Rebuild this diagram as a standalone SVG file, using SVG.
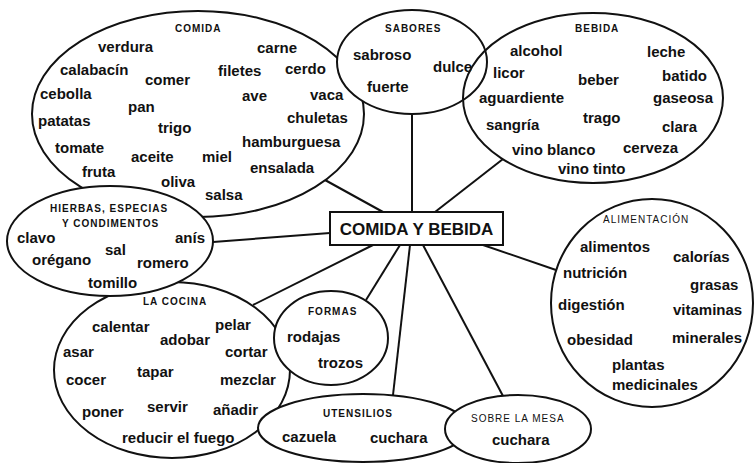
<svg xmlns="http://www.w3.org/2000/svg" width="754" height="463" viewBox="0 0 754 463">
<style>
.e{fill:none;stroke:#111;stroke-width:2}
.w{fill:#fff;stroke:#111;stroke-width:2}
.c line{stroke:#111;stroke-width:2}
text{fill:#111;font-family:"Liberation Sans",Arial,sans-serif}
.t{font-size:15px;font-weight:bold}
.h{font-size:10px;font-weight:bold;letter-spacing:1px}
.m{font-size:17px;font-weight:bold}
</style>
<rect width="754" height="463" fill="#fff"/>
<g id="connectors" class="c">
<line x1="325" y1="180" x2="383" y2="212"/>
<line x1="412" y1="114" x2="412" y2="212"/>
<line x1="503" y1="159" x2="435" y2="212"/>
<line x1="213" y1="242" x2="330" y2="233"/>
<line x1="253" y1="305" x2="373" y2="245"/>
<line x1="366" y1="300" x2="400" y2="245"/>
<line x1="393" y1="395" x2="410" y2="245"/>
<line x1="503" y1="396" x2="423" y2="245"/>
<line x1="483" y1="245" x2="556" y2="270"/>
</g>
<g id="comida">
<ellipse class="e" cx="198" cy="114" rx="166" ry="103"/>
<text class="h" x="175" y="32">COMIDA</text>
<text class="t" x="98" y="52">verdura</text>
<text class="t" x="257" y="53">carne</text>
<text class="t" x="60" y="75">calabacín</text>
<text class="t" x="218" y="76">filetes</text>
<text class="t" x="285" y="74">cerdo</text>
<text class="t" x="145" y="85">comer</text>
<text class="t" x="40" y="99">cebolla</text>
<text class="t" x="242" y="101">ave</text>
<text class="t" x="310" y="100">vaca</text>
<text class="t" x="128" y="112">pan</text>
<text class="t" x="38" y="126">patatas</text>
<text class="t" x="287" y="123">chuletas</text>
<text class="t" x="158" y="133">trigo</text>
<text class="t" x="242" y="147">hamburguesa</text>
<text class="t" x="55" y="153">tomate</text>
<text class="t" x="131" y="162">aceite</text>
<text class="t" x="202" y="162">miel</text>
<text class="t" x="250" y="173">ensalada</text>
<text class="t" x="82" y="177">fruta</text>
<text class="t" x="161" y="187">oliva</text>
<text class="t" x="205" y="200">salsa</text>
</g>
<g id="cocina">
<ellipse class="e" cx="172" cy="370" rx="118" ry="88"/>
<text class="h" x="143" y="305">LA COCINA</text>
<text class="t" x="92" y="332">calentar</text>
<text class="t" x="215" y="330">pelar</text>
<text class="t" x="160" y="345">adobar</text>
<text class="t" x="63" y="357">asar</text>
<text class="t" x="225" y="357">cortar</text>
<text class="t" x="137" y="377">tapar</text>
<text class="t" x="66" y="385">cocer</text>
<text class="t" x="220" y="385">mezclar</text>
<text class="t" x="82" y="417">poner</text>
<text class="t" x="147" y="412">servir</text>
<text class="t" x="213" y="415">añadir</text>
<text class="t" x="122" y="443">reducir el fuego</text>
</g>
<g id="hierbas">
<ellipse class="w" cx="110" cy="241" rx="103" ry="55"/>
<text class="h" x="50" y="212">HIERBAS, ESPECIAS</text>
<text class="h" x="62" y="227">Y CONDIMENTOS</text>
<text class="t" x="17" y="243">clavo</text>
<text class="t" x="175" y="243">anís</text>
<text class="t" x="105" y="255">sal</text>
<text class="t" x="32" y="265">orégano</text>
<text class="t" x="137" y="268">romero</text>
<text class="t" x="88" y="288">tomillo</text>
</g>
<g id="sabores">
<ellipse class="w" cx="412" cy="62" rx="75" ry="52"/>
<text class="h" x="385" y="32">SABORES</text>
<text class="t" x="353" y="60">sabroso</text>
<text class="t" x="433" y="72">dulce</text>
<text class="t" x="367" y="92">fuerte</text>
</g>
<g id="bebida">
<ellipse class="e" cx="593" cy="98" rx="130" ry="85"/>
<text class="h" x="575" y="32">BEBIDA</text>
<text class="t" x="510" y="56">alcohol</text>
<text class="t" x="647" y="57">leche</text>
<text class="t" x="493" y="78">licor</text>
<text class="t" x="662" y="81">batido</text>
<text class="t" x="578" y="85">beber</text>
<text class="t" x="479" y="103">aguardiente</text>
<text class="t" x="653" y="103">gaseosa</text>
<text class="t" x="583" y="123">trago</text>
<text class="t" x="486" y="130">sangría</text>
<text class="t" x="662" y="132">clara</text>
<text class="t" x="512" y="155">vino blanco</text>
<text class="t" x="623" y="153">cerveza</text>
<text class="t" x="558" y="174">vino tinto</text>
</g>
<g id="formas">
<ellipse class="w" cx="331" cy="338" rx="57" ry="47"/>
<text class="h" x="308" y="315">FORMAS</text>
<text class="t" x="287" y="342">rodajas</text>
<text class="t" x="318" y="368">trozos</text>
</g>
<g id="utensilios">
<ellipse class="w" cx="363" cy="428" rx="105" ry="34"/>
<text class="h" x="323" y="417">UTENSILIOS</text>
<text class="t" x="282" y="442">cazuela</text>
<text class="t" x="370" y="443">cuchara</text>
</g>
<g id="sobre-la-mesa">
<ellipse class="w" cx="518" cy="429" rx="73" ry="34"/>
<text class="h" x="471" y="422" style="font-weight:normal">SOBRE LA MESA</text>
<text class="t" x="492" y="445">cuchara</text>
</g>
<g id="alimentacion">
<ellipse class="e" cx="652" cy="303" rx="101" ry="104"/>
<text class="h" x="603" y="223" style="font-weight:normal">ALIMENTACIÓN</text>
<text class="t" x="580" y="252">alimentos</text>
<text class="t" x="673" y="262">calorías</text>
<text class="t" x="563" y="278">nutrición</text>
<text class="t" x="690" y="290">grasas</text>
<text class="t" x="558" y="310">digestión</text>
<text class="t" x="673" y="315">vitaminas</text>
<text class="t" x="567" y="345">obesidad</text>
<text class="t" x="672" y="343">minerales</text>
<text class="t" x="612" y="370">plantas</text>
<text class="t" x="612" y="390">medicinales</text>
</g>
<g id="center">
<rect x="330" y="212" width="173" height="33" fill="#fff" stroke="#111" stroke-width="2"/>
<text class="m" x="416.5" y="235" text-anchor="middle">COMIDA Y BEBIDA</text>
</g>
</svg>
